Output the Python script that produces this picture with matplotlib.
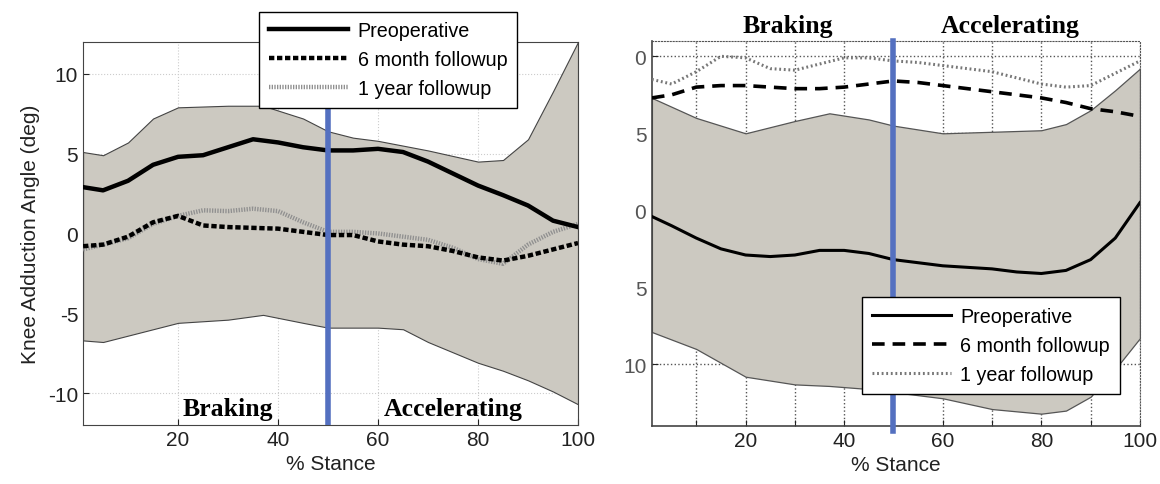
import matplotlib
matplotlib.use("Agg")
import matplotlib.pyplot as plt

# ---------------- left panel data ----------------
band_x_l = [1, 5, 10, 15, 20, 30, 37, 45, 50, 55, 60, 65, 70, 80, 85, 90, 95, 100]
band_hi_l = [5.1, 4.9, 5.7, 7.2, 7.9, 8.0, 8.0, 7.2, 6.4, 6.0, 5.8, 5.5, 5.2, 4.5, 4.6, 5.9, 8.9, 12.0]
band_lo_l = [-6.7, -6.8, -6.4, -6.0, -5.6, -5.4, -5.1, -5.6, -5.9, -5.9, -5.9, -6.0, -6.8, -8.1, -8.6, -9.2, -9.9, -10.7]

x_l = [1, 5, 10, 15, 20, 25, 30, 35, 40, 45, 50, 55, 60, 65, 70, 75, 80, 85, 90, 95, 100]
preop_l = [2.9, 2.7, 3.3, 4.3, 4.8, 4.9, 5.4, 5.9, 5.7, 5.4, 5.2, 5.2, 5.3, 5.1, 4.5, 3.75, 3.0, 2.4, 1.75, 0.8, 0.4]
six_l = [-0.8, -0.7, -0.2, 0.7, 1.1, 0.5, 0.4, 0.35, 0.3, 0.1, -0.1, -0.1, -0.5, -0.7, -0.8, -1.1, -1.5, -1.7, -1.4, -1.0, -0.6]
year_l = [-1.0, -0.7, -0.3, 0.6, 1.1, 1.45, 1.4, 1.55, 1.4, 0.7, 0.1, 0.1, 0.0, -0.2, -0.4, -0.9, -1.6, -1.9, -0.7, 0.1, 0.6]

# ---------------- right panel data ----------------
band_x_r = [1, 10, 20, 30, 37, 45, 50, 60, 70, 80, 85, 90, 95, 100]
band_hi_r = [7.3, 6.0, 5.0, 5.8, 6.3, 5.9, 5.5, 5.0, 5.1, 5.2, 5.6, 6.5, 7.8, 9.2]
band_lo_r = [-7.9, -9.0, -10.8, -11.3, -11.4, -11.6, -11.8, -12.2, -12.9, -13.2, -13.0, -12.1, -10.3, -8.3]

x_r = [1, 5, 10, 15, 20, 25, 30, 35, 40, 45, 50, 55, 60, 65, 70, 75, 80, 85, 90, 95, 100]
preop_r = [-0.4, -1.0, -1.8, -2.5, -2.9, -3.0, -2.9, -2.6, -2.6, -2.8, -3.2, -3.4, -3.6, -3.7, -3.8, -4.0, -4.1, -3.9, -3.2, -1.8, 0.5]
six_r = [7.3, 7.5, 8.0, 8.1, 8.1, 8.0, 7.9, 7.9, 8.0, 8.2, 8.4, 8.3, 8.1, 7.9, 7.7, 7.5, 7.3, 7.0, 6.6, 6.4, 6.1]
year_r = [8.5, 8.2, 9.0, 10.0, 9.9, 9.2, 9.1, 9.5, 9.9, 9.9, 9.7, 9.6, 9.4, 9.2, 9.0, 8.6, 8.2, 8.0, 8.1, 8.9, 9.7]

labels = ["Preoperative", "6 month followup", "1 year followup"]
y_ticks = [-10, -5, 0, 5, 10]
right_ytick_labels = ["10", "5", "0", "5", "0"]
x_ticks = [20, 40, 60, 80, 100]

FILL = "#ccc9c1"
BLUE = "#5470c0"
serif = ["Liberation Serif", "DejaVu Serif"]
sans = ["Liberation Sans", "DejaVu Sans"]

plt.rcParams["font.family"] = sans
plt.rcParams["axes.unicode_minus"] = False

fig = plt.figure(figsize=(11.6, 4.85), dpi=100)

# ==================================================
# LEFT PANEL
# ==================================================
ax1 = fig.add_axes([0.0716, 0.1216, 0.4267, 0.79])
ax1.fill_between(band_x_l, band_lo_l, band_hi_l, facecolor=FILL, edgecolor="#444444", linewidth=0.8, zorder=2)
ax1.plot(x_l, preop_l, color="black", lw=3.2, zorder=4, label=labels[0])
ax1.plot(x_l, six_l, color="black", lw=3.2, ls=(0, (1.2, 0.6)), zorder=4, label=labels[1])
ax1.plot(x_l, year_l, color="#909090", lw=3.2, ls=(0, (0.3, 0.3)), zorder=3, label=labels[2])
ax1.plot([50, 50], [8.4, -12], color=BLUE, lw=4, zorder=5)

ax1.set_xlim(1, 100)
ax1.set_ylim(-12, 12)
ax1.set_xticks(x_ticks)
ax1.set_yticks(y_ticks)
ax1.grid(True, ls=":", color="#cccccc", lw=0.8, zorder=0)
ax1.set_axisbelow(True)
ax1.tick_params(direction="in", labelsize=15, length=4, colors="#222222")
for s in ax1.spines.values():
    s.set_color("#444444")
ax1.set_ylabel("Knee Adduction Angle (deg)", fontsize=15, color="#222222", labelpad=6)
ax1.set_xlabel("% Stance", fontsize=15, color="#222222")
ax1.text(30, -11.4, "Braking", family=serif, fontweight="bold", fontsize=18.5, ha="center", va="baseline", zorder=6)
ax1.text(75, -11.4, "Accelerating", family=serif, fontweight="bold", fontsize=18.5, ha="center", va="baseline", zorder=6)

leg1 = ax1.legend(loc="upper left", bbox_to_anchor=(0.336, 1.105), fontsize=14.2, frameon=True,
                  fancybox=False, edgecolor="black", framealpha=1, handlelength=4.0,
                  borderpad=0.5, labelspacing=0.5, handletextpad=0.5)
leg1.get_frame().set_linewidth(1.0)
leg1.set_zorder(10)

# ==================================================
# RIGHT PANEL
# ==================================================
ax2 = fig.add_axes([0.562, 0.1196, 0.4207, 0.794])
ax2.fill_between(band_x_r, band_lo_r, band_hi_r, facecolor=FILL, edgecolor="#555555", linewidth=0.9, zorder=2)
ax2.plot(x_r, preop_r, color="black", lw=2.2, zorder=4, label=labels[0])
ax2.plot(x_r, six_r, color="black", lw=2.6, ls=(0, (3.5, 2.2)), zorder=4, label=labels[1])
ax2.plot(x_r, year_r, color="#777777", lw=2.2, ls=(0, (0.6, 0.9)), zorder=3, label=labels[2])
ax2.plot([50, 50], [11, -14.3], color=BLUE, lw=4, zorder=5, clip_on=False)

ax2.set_xlim(1, 100)
ax2.set_ylim(-14, 11)
ax2.set_xticks(list(range(10, 101, 10)))
ax2.set_xticklabels(["" if t % 20 else str(t) for t in range(10, 101, 10)])
ax2.set_yticks(y_ticks)
ax2.set_yticklabels(right_ytick_labels)
ax2.grid(True, ls=":", color="#555555", lw=1.0, zorder=0)
ax2.set_axisbelow(True)
ax2.tick_params(direction="in", labelsize=15, length=4, colors="#222222")
ax2.tick_params(axis="y", labelcolor="#555555", pad=4)
for side in ["top", "right"]:
    ax2.spines[side].set_linestyle(":")
    ax2.spines[side].set_color("#555555")
for side in ["left", "bottom"]:
    ax2.spines[side].set_color("#444444")
    ax2.spines[side].set_linewidth(1.2)
ax2.set_xlabel("% Stance", fontsize=15, color="#222222")
ax2.text(28.6, 11.6, "Braking", family=serif, fontweight="bold", fontsize=18.5, ha="center", va="baseline")
ax2.text(73.6, 11.6, "Accelerating", family=serif, fontweight="bold", fontsize=18.5, ha="center", va="baseline")

leg2 = ax2.legend(loc="upper left", bbox_to_anchor=(0.41, 0.36), fontsize=14.2, frameon=True,
                  fancybox=False, edgecolor="black", framealpha=1, handlelength=4.0,
                  borderpad=0.5, labelspacing=0.5, handletextpad=0.5)
leg2.get_frame().set_linewidth(1.0)
leg2.set_zorder(10)

fig.savefig("out.png", dpi=100)
